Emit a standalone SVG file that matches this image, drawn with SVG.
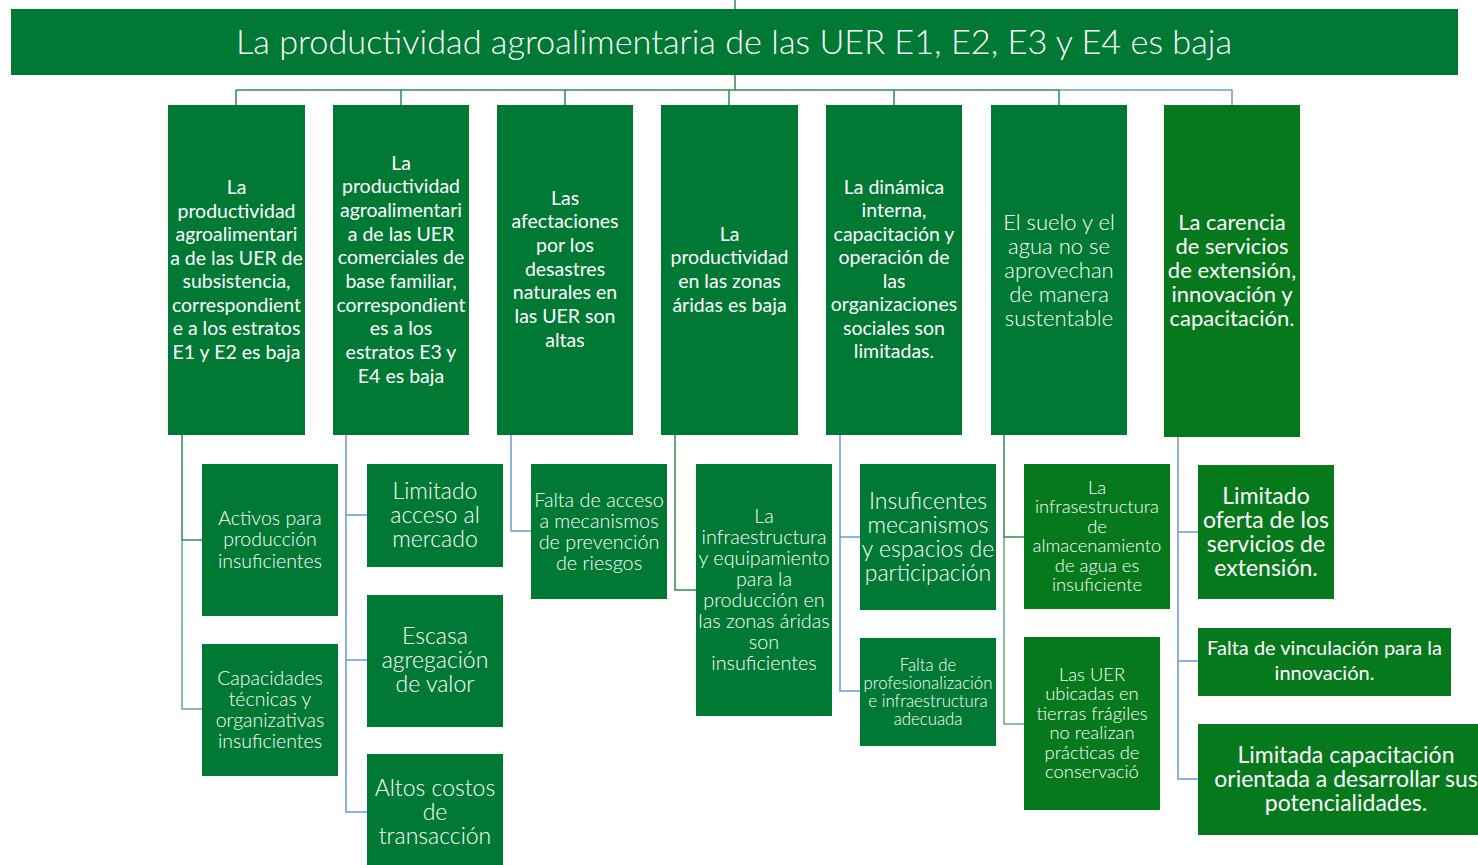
<svg xmlns="http://www.w3.org/2000/svg" width="1478" height="865" viewBox="0 0 1478 865">
<style>
.n{fill:#007934}
.n2{fill:#06791d}
.t{fill:#fff;text-anchor:middle;font-family:Lato,"Liberation Sans",sans-serif}
.r{font-weight:400}
.l{font-weight:300}
.cg{stroke:#2f8a4f;stroke-width:1.5;fill:none}
.cl{stroke:#62ad79;stroke-width:1.5;fill:none}
.cb{stroke:#6a9ad6;stroke-width:1.5;fill:none}
</style>
<rect width="1478" height="865" fill="#fff"/>
<g id="connectors">
<path class="cg" d="M735 0V9M735 75V90M236 90H1060M236 90V105M401 90V105M565 90V105M729 90V105M894 90V105M1059 90V105"/>
<path class="cb" d="M1060 90H1232V105"/>
<path class="cg" d="M182 435V540H202"/>
<path class="cl" d="M182 540V709H202"/>
<path class="cb" d="M346 435V812H367M346 515H367M346 660H367"/>
<path class="cb" d="M511 435V531H531"/>
<path class="cg" d="M675 435V590H696"/>
<path class="cb" d="M840 435V691H860M840 537H860"/>
<path class="cg" d="M1004 435V537H1024"/>
<path class="cl" d="M1004 537V724H1024"/>
<path class="cb" d="M1178 437V779H1198M1178 532H1198M1178 661H1198"/>
</g>
<g id="root"><rect class="n" x="11" y="9" width="1447" height="66"/>
<text class="t l" x="734" y="54" font-size="34.3">La productividad agroalimentaria de las UER E1, E2, E3 y E4 es baja</text></g>

<g id="c1"><rect class="n" x="168" y="105" width="137" height="330"/>
<text class="t r" font-size="19.5"><tspan x="236.5" y="194">La</tspan><tspan x="236.5" dy="23.5">productividad</tspan><tspan x="236.5" dy="23.5">agroalimentari</tspan><tspan x="236.5" dy="23.5">a de las UER de</tspan><tspan x="236.5" dy="23.5">subsistencia,</tspan><tspan x="236.5" dy="23.5">correspondient</tspan><tspan x="236.5" dy="23.5">e a los estratos</tspan><tspan x="236.5" dy="23.5">E1 y E2 es baja</tspan></text></g>
<g id="c2"><rect class="n" x="333" y="105" width="136" height="330"/>
<text class="t r" font-size="19.5"><tspan x="401" y="169.5">La</tspan><tspan x="401" dy="23.67">productividad</tspan><tspan x="401" dy="23.67">agroalimentari</tspan><tspan x="401" dy="23.67">a de las UER</tspan><tspan x="401" dy="23.67">comerciales de</tspan><tspan x="401" dy="23.67">base familiar,</tspan><tspan x="401" dy="23.67">correspondient</tspan><tspan x="401" dy="23.67">es a los</tspan><tspan x="401" dy="23.67">estratos E3 y</tspan><tspan x="401" dy="23.67">E4 es baja</tspan></text></g>
<g id="c3"><rect class="n" x="497" y="105" width="136" height="330"/>
<text class="t r" font-size="19.5"><tspan x="565" y="204.5">Las</tspan><tspan x="565" dy="23.67">afectaciones</tspan><tspan x="565" dy="23.67">por los</tspan><tspan x="565" dy="23.67">desastres</tspan><tspan x="565" dy="23.67">naturales en</tspan><tspan x="565" dy="23.67">las UER son</tspan><tspan x="565" dy="23.67">altas</tspan></text></g>
<g id="c4"><rect class="n" x="661" y="105" width="137" height="330"/>
<text class="t r" font-size="19.5"><tspan x="729.5" y="240.5">La</tspan><tspan x="729.5" dy="23.67">productividad</tspan><tspan x="729.5" dy="23.67">en las zonas</tspan><tspan x="729.5" dy="23.67">áridas es baja</tspan></text></g>
<g id="c5"><rect class="n" x="826" y="105" width="136" height="330"/>
<text class="t r" font-size="19.5"><tspan x="894" y="193.5">La dinámica</tspan><tspan x="894" dy="23.57">interna,</tspan><tspan x="894" dy="23.57">capacitación y</tspan><tspan x="894" dy="23.57">operación de</tspan><tspan x="894" dy="23.57">las</tspan><tspan x="894" dy="23.57">organizaciones</tspan><tspan x="894" dy="23.57">sociales son</tspan><tspan x="894" dy="23.57">limitadas.</tspan></text></g>
<g id="c6"><rect class="n" x="991" y="105" width="136" height="330"/>
<text class="t l" font-size="22"><tspan x="1059" y="229.5">El suelo y el</tspan><tspan x="1059" dy="24">agua no se</tspan><tspan x="1059" dy="24">aprovechan</tspan><tspan x="1059" dy="24">de manera</tspan><tspan x="1059" dy="24">sustentable</tspan></text></g>
<g id="c7"><rect class="n2" x="1164" y="105" width="136" height="332"/>
<text class="t r" font-size="22"><tspan x="1232" y="229.5">La carencia</tspan><tspan x="1232" dy="24.2">de servicios</tspan><tspan x="1232" dy="24.2">de extensión,</tspan><tspan x="1232" dy="24.2">innovación y</tspan><tspan x="1232" dy="24.2">capacitación.</tspan></text></g>

<g id="c1a"><rect class="n" x="202" y="464" width="136" height="152"/>
<text class="t l" font-size="19.5"><tspan x="270" y="524.5">Activos para</tspan><tspan x="270" dy="21.5">producción</tspan><tspan x="270" dy="21.5">insuficientes</tspan></text></g>
<g id="c1b"><rect class="n" x="202" y="644" width="136" height="132"/>
<text class="t l" font-size="19.5"><tspan x="270" y="684.5">Capacidades</tspan><tspan x="270" dy="21">técnicas y</tspan><tspan x="270" dy="21">organizativas</tspan><tspan x="270" dy="21">insuficientes</tspan></text></g>
<g id="c2a"><rect class="n" x="367" y="464" width="136" height="103"/>
<text class="t l" font-size="23"><tspan x="435" y="499">Limitado</tspan><tspan x="435" dy="24">acceso al</tspan><tspan x="435" dy="24">mercado</tspan></text></g>
<g id="c2b"><rect class="n" x="367" y="595" width="136" height="132"/>
<text class="t l" font-size="23"><tspan x="435" y="644">Escasa</tspan><tspan x="435" dy="24">agregación</tspan><tspan x="435" dy="24">de valor</tspan></text></g>
<g id="c2c"><rect class="n" x="367" y="754" width="136" height="111"/>
<text class="t l" font-size="23"><tspan x="435" y="796">Altos costos</tspan><tspan x="435" dy="24">de</tspan><tspan x="435" dy="24">transacción</tspan></text></g>
<g id="c3a"><rect class="n" x="531" y="464" width="136" height="135"/>
<text class="t l" font-size="19.8"><tspan x="599" y="506.5">Falta de acceso</tspan><tspan x="599" dy="21">a mecanismos</tspan><tspan x="599" dy="21">de prevención</tspan><tspan x="599" dy="21">de riesgos</tspan></text></g>
<g id="c4a"><rect class="n" x="696" y="464" width="136" height="252"/>
<text class="t l" font-size="19.8"><tspan x="764" y="522.5">La</tspan><tspan x="764" dy="21">infraestructura</tspan><tspan x="764" dy="21">y equipamiento</tspan><tspan x="764" dy="21">para la</tspan><tspan x="764" dy="21">producción en</tspan><tspan x="764" dy="21">las zonas áridas</tspan><tspan x="764" dy="21">son</tspan><tspan x="764" dy="21">insuficientes</tspan></text></g>
<g id="c5a"><rect class="n" x="860" y="464" width="136" height="146"/>
<text class="t l" font-size="23"><tspan x="928" y="509">Insuficentes</tspan><tspan x="928" dy="24">mecanismos</tspan><tspan x="928" dy="24">y espacios de</tspan><tspan x="928" dy="24">participación</tspan></text></g>
<g id="c5b"><rect class="n" x="860" y="638" width="136" height="108"/>
<text class="t l" font-size="16.8"><tspan x="928" y="670.5">Falta de</tspan><tspan x="928" dy="18">profesionalización</tspan><tspan x="928" dy="18">e infraestructura</tspan><tspan x="928" dy="18">adecuada</tspan></text></g>
<g id="c6a"><rect class="n2" x="1024" y="464" width="146" height="145"/>
<text class="t l" font-size="18.4"><tspan x="1097" y="494">La</tspan><tspan x="1097" dy="19.4">infrasestructura</tspan><tspan x="1097" dy="19.4">de</tspan><tspan x="1097" dy="19.4">almacenamiento</tspan><tspan x="1097" dy="19.4">de agua es</tspan><tspan x="1097" dy="19.4">insuficiente</tspan></text></g>
<g id="c6b"><rect class="n2" x="1024" y="637" width="136" height="173"/>
<text class="t l" font-size="18.4"><tspan x="1092" y="681">Las UER</tspan><tspan x="1092" dy="19.4">ubicadas en</tspan><tspan x="1092" dy="19.4">tierras frágiles</tspan><tspan x="1092" dy="19.4">no realizan</tspan><tspan x="1092" dy="19.4">prácticas de</tspan><tspan x="1092" dy="19.4">conservació</tspan></text></g>
<g id="c7a"><rect class="n2" x="1198" y="465" width="136" height="134"/>
<text class="t r" font-size="23"><tspan x="1266" y="504">Limitado</tspan><tspan x="1266" dy="24">oferta de los</tspan><tspan x="1266" dy="24">servicios de</tspan><tspan x="1266" dy="24">extensión.</tspan></text></g>
<g id="c7b"><rect class="n2" x="1198" y="628" width="253" height="68"/>
<text class="t r" font-size="20"><tspan x="1324.5" y="655">Falta de vinculación para la</tspan><tspan x="1324.5" dy="25">innovación.</tspan></text></g>
<g id="c7c"><rect class="n2" x="1198" y="724" width="300" height="111"/>
<text class="t r" font-size="23"><tspan x="1346" y="763">Limitada capacitación</tspan><tspan x="1346" dy="24">orientada a desarrollar sus</tspan><tspan x="1346" dy="24">potencialidades.</tspan></text></g>
</svg>
